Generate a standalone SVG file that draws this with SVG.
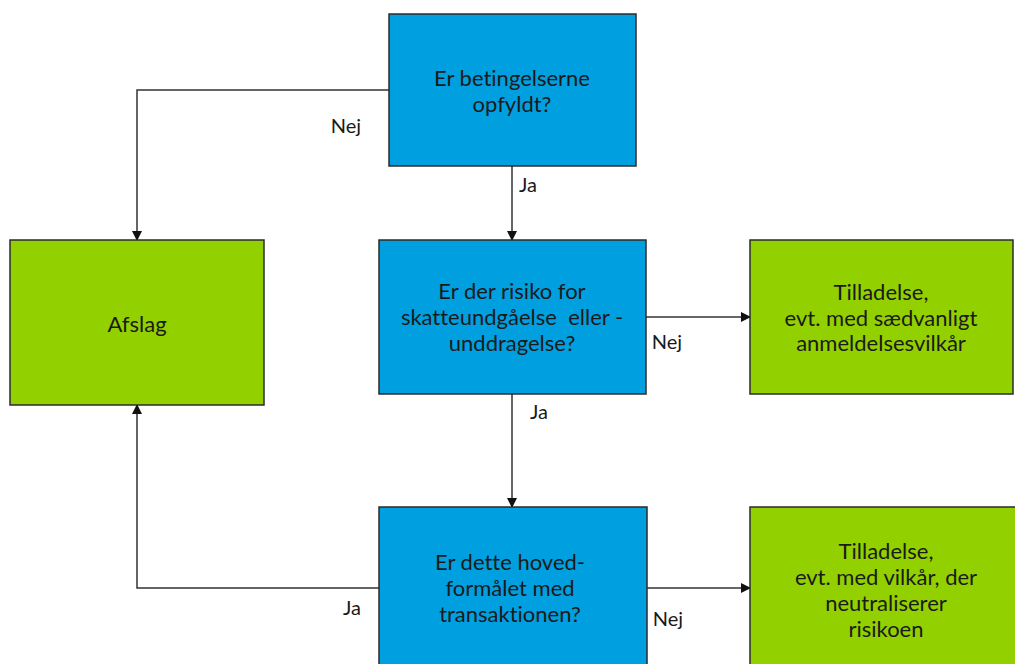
<svg xmlns="http://www.w3.org/2000/svg" width="1015" height="664" viewBox="0 0 1015 664">
<defs>
<marker id="arr" markerWidth="10" markerHeight="10" refX="9" refY="5" orient="auto" markerUnits="userSpaceOnUse">
<path d="M0,0 L10,5 L0,10 Z" fill="#111"/>
</marker>
<style>
.blue{fill:#009fdf;stroke:#2b2b2b;stroke-width:1.5}
.green{fill:#92d000;stroke:#2b2b2b;stroke-width:1.5}
.t{font-family:Lato,"Open Sans",sans-serif;font-size:22px;fill:#1a1a1a;text-anchor:middle;white-space:pre;font-variant-ligatures:none}
.lbl{font-family:Lato,"Open Sans",sans-serif;font-size:20px;fill:#1a1a1a;text-anchor:middle}
.c{fill:none;stroke:#333;stroke-width:1.5;marker-end:url(#arr)}
</style>
</defs>
<rect width="1015" height="664" fill="#fff"/>
<g id="connectors">
<path class="c" d="M389,90 H137 V240"/>
<path class="c" d="M512,166 V240"/>
<path class="c" d="M646,317 H750"/>
<path class="c" d="M512,394 V507"/>
<path class="c" d="M379,588 H137 V405"/>
<path class="c" d="M647,588 H750"/>
<text class="lbl" x="346" y="133">Nej</text>
<text class="lbl" x="528" y="192">Ja</text>
<text class="lbl" x="667" y="349">Nej</text>
<text class="lbl" x="539" y="419">Ja</text>
<text class="lbl" x="352" y="615">Ja</text>
<text class="lbl" x="668" y="626">Nej</text>
</g>
<g id="q1">
<rect class="blue" x="389" y="14" width="247" height="152"/>
<text class="t" x="512" y="86">Er betingelserne</text>
<text class="t" x="512" y="112">opfyldt?</text>
</g>
<g id="afslag">
<rect class="green" x="10" y="240" width="254" height="165"/>
<text class="t" x="137" y="332">Afslag</text>
</g>
<g id="q2">
<rect class="blue" x="379" y="240" width="267" height="154"/>
<text class="t" x="512" y="299">Er der risiko for</text>
<text class="t" x="512" y="325">skatteundgåelse  eller -</text>
<text class="t" x="512" y="351">unddragelse?</text>
</g>
<g id="tilladelse1">
<rect class="green" x="750" y="240" width="263" height="154"/>
<text class="t" x="881" y="300">Tilladelse,</text>
<text class="t" x="881" y="326">evt. med sædvanligt</text>
<text class="t" x="881" y="351">anmeldelsesvilkår</text>
</g>
<g id="q3">
<rect class="blue" x="379" y="507" width="268" height="170"/>
<text class="t" x="510" y="570">Er dette hoved-</text>
<text class="t" x="510" y="596">formålet med</text>
<text class="t" x="510" y="622">transaktionen?</text>
</g>
<g id="tilladelse2">
<rect class="green" x="750" y="507" width="275" height="170"/>
<text class="t" x="886" y="559">Tilladelse,</text>
<text class="t" x="886" y="585">evt. med vilkår, der</text>
<text class="t" x="886" y="611">neutraliserer</text>
<text class="t" x="886" y="637">risikoen</text>
</g>
</svg>
